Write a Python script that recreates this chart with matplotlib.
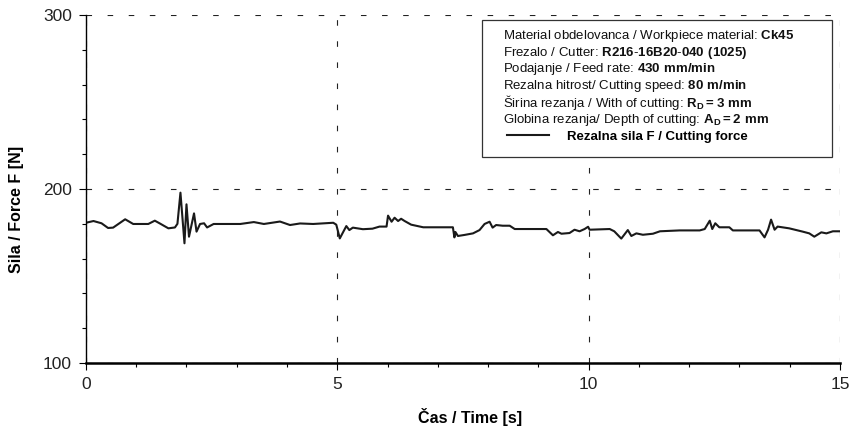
import numpy as np
import matplotlib
matplotlib.use("Agg")
import matplotlib.pyplot as plt
from matplotlib.patches import Rectangle

plt.rcParams['font.family'] = ['Liberation Sans', 'DejaVu Sans']
plt.rcParams['mathtext.fontset'] = 'custom'
plt.rcParams['mathtext.rm'] = 'Liberation Sans'
plt.rcParams['mathtext.bf'] = 'Liberation Sans:bold'

# === Data ===
time_s = [0.00, 0.15, 0.31, 0.44, 0.54, 0.78, 0.94, 1.24, 1.37, 1.47, 1.64, 1.77,
          1.82, 1.88, 1.96, 2.00, 2.05, 2.15, 2.20, 2.27, 2.35, 2.41, 2.54, 3.07,
          3.34, 3.54, 3.86, 4.06, 4.26, 4.52, 4.92, 4.98, 5.05, 5.18, 5.24, 5.31,
          5.51, 5.70, 5.84, 5.98, 6.01, 6.08, 6.14, 6.21, 6.27, 6.34, 6.47, 6.71,
          7.30, 7.33, 7.35, 7.40, 7.53, 7.70, 7.83, 7.93, 8.03, 8.09, 8.16, 8.29,
          8.43, 8.53, 9.16, 9.29, 9.39, 9.46, 9.62, 9.72, 9.82, 9.92, 9.99, 10.02,
          10.42, 10.51, 10.65, 10.78, 10.85, 10.95, 11.08, 11.28, 11.42, 11.81,
          12.21, 12.31, 12.41, 12.46, 12.52, 12.60, 12.80, 12.87, 13.40, 13.50,
          13.57, 13.63, 13.70, 13.76, 13.99, 14.26, 14.39, 14.49, 14.63, 14.73,
          14.86, 15.00]
force_N = [180.6, 181.6, 180.3, 177.6, 177.8, 182.6, 179.9, 179.9, 181.8, 180.2,
           177.4, 177.9, 180.0, 197.9, 168.8, 191.2, 172.6, 186.0, 175.5, 179.9,
           180.3, 177.9, 179.9, 179.9, 181.0, 179.9, 181.3, 179.3, 180.2, 179.9,
           180.6, 179.5, 171.6, 178.7, 176.4, 177.8, 176.9, 177.2, 178.4, 178.4,
           184.7, 181.2, 183.5, 181.6, 182.9, 181.6, 179.5, 178.0, 178.0, 172.2,
           175.3, 173.0, 173.6, 174.5, 176.4, 179.9, 181.2, 177.8, 179.3, 178.9,
           178.9, 177.0, 177.0, 173.4, 175.3, 174.3, 174.7, 176.6, 175.7, 177.0,
           178.3, 176.6, 177.0, 175.7, 171.5, 176.4, 173.0, 174.5, 173.7, 174.3,
           175.7, 176.2, 176.2, 177.0, 181.8, 177.0, 180.3, 178.0, 178.0, 176.2,
           176.2, 172.2, 176.6, 182.4, 176.6, 178.4, 177.4, 175.5, 174.5, 172.6,
           175.1, 174.5, 175.7, 175.7]

info_lines = [
    r"Material obdelovanca / Workpiece material: $\mathbf{Ck45}$",
    r"Frezalo / Cutter: $\mathbf{R216\text{-}16B20\text{-}040\ (1025)}$",
    r"Podajanje / Feed rate: $\mathbf{430\ mm/min}$",
    r"Rezalna hitrost/ Cutting speed: $\mathbf{80\ m/min}$",
    r"Širina rezanja / With of cutting: $\mathbf{R_D{=}3\ mm}$",
    r"Globina rezanja/ Depth of cutting: $\mathbf{A_D{=}2\ mm}$",
]

# === Figure ===
fig = plt.figure(figsize=(8.51, 4.34), dpi=100)
ax = fig.add_axes([0.101, 0.1636, 0.886, 0.8018])

ax.plot(time_s, force_N, color="#1a1a1a", lw=1.5,
        label="Rezalna sila F / Cutting force")

ax.set_xlim(0, 15)
ax.set_ylim(100, 300)
ax.set_xticks([0, 5, 10, 15])
ax.set_yticks([100, 200, 300])
ax.set_xticks(np.arange(0, 16, 1), minor=True)
ax.set_yticks(np.arange(100, 301, 20), minor=True)

ax.grid(True, which="major", color="#222222", lw=0.8, linestyle=(0, (5, 14)))
ax.set_axisbelow(True)

for s in ("top", "right"):
    ax.spines[s].set_visible(False)
ax.spines["left"].set_linewidth(1.0)
ax.spines["bottom"].set_linewidth(1.8)

ax.tick_params(axis="both", which="major", direction="out", length=5,
               width=0.8, labelsize=12.5, labelcolor="#222222", pad=5)
ax.tick_params(axis="both", which="minor", direction="out", length=3, width=0.8)

ax.set_xlabel("Čas / Time [s]", fontsize=11.5, fontweight="bold")
ax.set_ylabel("Sila / Force F [N]", fontsize=11.5, fontweight="bold")
ax.xaxis.set_label_coords(0.509, -0.129)
ax.yaxis.set_label_coords(-0.082, 0.44)

# info box
ax.add_patch(Rectangle((0.525, 0.592), 0.464, 0.3936, transform=ax.transAxes,
                       facecolor="white", edgecolor="#333333", lw=0.9, zorder=3))
ys = [0.9397, 0.8917, 0.8440, 0.7960, 0.748, 0.698]
for txt, yy in zip(info_lines, ys):
    ax.text(0.553, yy, txt, transform=ax.transAxes, fontsize=9.5,
            va="center", ha="left", color="#111111", zorder=4)

leg = ax.legend(loc="center left", bbox_to_anchor=(0.558, 0.650), frameon=False,
                handlelength=3.2, handletextpad=1.4, borderpad=0, borderaxespad=0,
                prop={"size": 9.5, "weight": "bold"})
leg.set_zorder(5)

fig.savefig("out.png", dpi=100)
